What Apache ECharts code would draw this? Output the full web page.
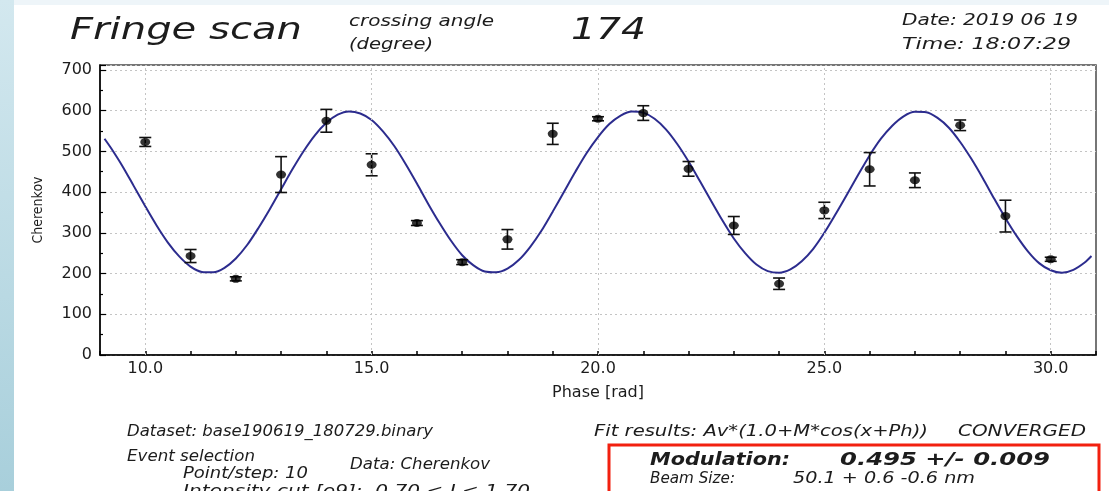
<!DOCTYPE html>
<html>
<head>
<meta charset="utf-8">
<title>Fringe scan</title>
<script src="https://cdn.jsdelivr.net/npm/echarts@6/dist/echarts.min.js"></script>
<style>
  html, body { margin: 0; padding: 0; background: #ffffff; }
  #strip { position: absolute; left: 0; top: 0; width: 14px; height: 491px;
           background: linear-gradient(to bottom, #d3e8ef, #a8cfdb); }
  #topband { position: absolute; left: 14px; top: 0; width: 1095px; height: 5px; background: #eef5f9; }
  #chart { position: absolute; left: 0; top: 0; width: 1109px; height: 491px; }
</style>
</head>
<body>
<div id="strip"></div>
<div id="topband"></div>
<div id="chart"></div>
<script>
// measured points (phase in rad, Cherenkov counts, error)
const phase = [10, 11, 12, 13, 14, 15, 16, 17, 18, 19, 20, 21, 22, 23, 24, 25, 26, 27, 28, 29, 30];
const counts = [523, 243, 187, 443, 575, 467, 324, 228, 284, 543, 580, 594, 457, 318, 175, 355, 456, 429, 564, 341, 235];
const errors = [11, 16, 5, 44, 28, 27, 6, 6, 24, 26, 5, 18, 18, 22, 14, 20, 41, 18, 13, 39, 5];

// fit curve, every quarter rad
const fitPhase = [9.1, 9.25, 9.5, 9.75, 10, 10.25, 10.5, 10.75, 11, 11.25, 11.5, 11.75, 12, 12.25, 12.5, 12.75,
  13, 13.25, 13.5, 13.75, 14, 14.25, 14.5, 14.75, 15, 15.25, 15.5, 15.75, 16, 16.25, 16.5, 16.75,
  17, 17.25, 17.5, 17.75, 18, 18.25, 18.5, 18.75, 19, 19.25, 19.5, 19.75, 20, 20.25, 20.5, 20.75,
  21, 21.25, 21.5, 21.75, 22, 22.25, 22.5, 22.75, 23, 23.25, 23.5, 23.75, 24, 24.25, 24.5, 24.75,
  25, 25.25, 25.5, 25.75, 26, 26.25, 26.5, 26.75, 27, 27.25, 27.5, 27.75, 28, 28.25, 28.5, 28.75,
  29, 29.25, 29.5, 29.75, 30, 30.25, 30.5, 30.75, 30.9];
const fitCounts = [531, 507, 463, 414, 365, 318, 276, 242, 217, 204, 203, 214, 237, 270, 312, 358,
  407, 456, 501, 540, 570, 590, 598, 593, 577, 549, 513, 469, 421, 371, 324, 281,
  245, 220, 205, 203, 212, 233, 265, 305, 352, 401, 450, 496, 535, 567, 588, 598,
  595, 580, 554, 518, 475, 427, 378, 330, 286, 250, 222, 206, 202, 210, 230, 260,
  300, 346, 394, 443, 490, 531, 563, 586, 597, 596, 582, 558, 523, 481, 434, 384,
  336, 292, 254, 225, 208, 202, 209, 227, 243];

const xMajor = [10, 15, 20, 25, 30];

const chart = echarts.init(document.getElementById('chart'));

// the original screenshot is stretched sideways, so texts get a scaleX to fit their span
const measureCtx = document.createElement('canvas').getContext('2d');
function label(text, left, right, cy, font) {
  measureCtx.font = font;
  const w = measureCtx.measureText(text).width;
  return {
    type: 'text',
    x: left,
    y: cy,
    scaleX: (right - left) / w,
    silent: true,
    style: { text: text, font: font, fill: '#1c1c1c', verticalAlign: 'middle' }
  };
}

const big = 'italic 30px "DejaVu Sans"';
const small = 'italic 15px "DejaVu Sans"';
const info = 'italic 15px "DejaVu Sans"';
const boldInfo = 'italic bold 17px "DejaVu Sans"';
const beam = 'italic 15px "DejaVu Sans"';

const texts = [
  label('Fringe scan', 70, 302, 31, big),
  label('crossing angle', 349, 494, 22, small),
  label('(degree)', 349, 433, 45, small),
  label('174', 571, 646, 31, big),
  label('Date: 2019 06 19', 902, 1078, 21, small),
  label('Time: 18:07:29', 902, 1071, 45, small),
  label('Dataset: base190619_180729.binary', 127, 433, 432, info),
  label('Fit results: Av*(1.0+M*cos(x+Ph))', 594, 928, 432, info),
  label('CONVERGED', 958, 1086, 432, info),
  label('Event selection', 127, 255, 457, info),
  label('Data: Cherenkov', 350, 490, 465, info),
  label('Point/step: 10', 183, 308, 474, info),
  label('Intensity cut [e9]:  0.70 < I < 1.70', 183, 530, 492, info),
  label('Modulation:', 650, 790, 461, boldInfo),
  label('0.495 +/- 0.009', 840, 1050, 461, boldInfo),
  label('Beam Size:', 650, 735, 479, beam),
  label('50.1 + 0.6 -0.6 nm', 793, 975, 479, beam),
  {
    type: 'rect',
    silent: true,
    shape: { x: 609, y: 445, width: 490, height: 52 },
    style: { fill: 'none', stroke: '#f2200f', lineWidth: 3 }
  }
];

const option = {
  animation: false,
  backgroundColor: 'transparent',
  grid: {
    left: 100, right: 13, top: 65, bottom: 136,
    show: true, borderColor: '#4a4a4a', borderWidth: 1.5, backgroundColor: '#ffffff'
  },
  xAxis: {
    type: 'value',
    min: 9,
    max: 31,
    interval: 1,
    name: 'Phase [rad]',
    nameLocation: 'middle',
    nameGap: 30,
    nameTextStyle: { fontFamily: 'DejaVu Sans', fontSize: 16, color: '#1c1c1c' },
    axisLine: { lineStyle: { color: '#000', width: 1.5 } },
    axisTick: { inside: true, length: 4, lineStyle: { color: '#000', width: 1.5 } },
    axisLabel: {
      margin: 6,
      fontFamily: 'DejaVu Sans', fontSize: 16, color: '#1c1c1c',
      formatter: v => (v % 5 === 0 ? v.toFixed(1) : '')
    },
    splitLine: { show: false }
  },
  yAxis: {
    type: 'value',
    min: 0,
    max: 712,
    interval: 100,
    name: 'Cherenkov',
    nameLocation: 'middle',
    nameGap: 55,
    nameTextStyle: {
      fontFamily: '"DejaVu Sans Condensed", "Liberation Sans", sans-serif',
      fontSize: 14, color: '#1c1c1c', padding: [0, 0, 0, 0]
    },
    axisLine: { show: true, lineStyle: { color: '#000', width: 1.5 } },
    axisTick: { inside: true, length: 6, lineStyle: { color: '#000', width: 1.2 } },
    minorTick: { show: true, splitNumber: 2, length: 3, lineStyle: { color: '#000', width: 1.2 } },
    axisLabel: {
      margin: 8,
      fontFamily: 'DejaVu Sans', fontSize: 16, color: '#1c1c1c',
      formatter: v => (v % 100 === 0 ? String(v) : '')
    },
    splitLine: { lineStyle: { color: '#c4c4c4', type: [2, 3], width: 1 } }
  },
  series: [
    {
      // vertical grid lines at the labelled phases
      type: 'line',
      data: [],
      z: 1,
      silent: true,
      markLine: {
        silent: true,
        symbol: 'none',
        label: { show: false },
        lineStyle: { color: '#c4c4c4', type: [2, 3], width: 1 },
        data: xMajor.map(v => ({ xAxis: v }))
      }
    },
    {
      name: 'fit',
      type: 'line',
      data: fitPhase.map((x, i) => [x, fitCounts[i]]),
      smooth: 0.3,
      showSymbol: false,
      z: 3,
      lineStyle: { color: '#2c2c8e', width: 2 }
    },
    {
      name: 'errors',
      type: 'custom',
      z: 4,
      data: phase.map((x, i) => [x, counts[i] - errors[i], counts[i] + errors[i]]),
      renderItem: function (params, api) {
        const lo = api.coord([api.value(0), api.value(1)]);
        const hi = api.coord([api.value(0), api.value(2)]);
        const cap = 6;
        const style = { stroke: '#111', lineWidth: 1.6 };
        return {
          type: 'group',
          children: [
            { type: 'line', shape: { x1: lo[0], y1: lo[1], x2: hi[0], y2: hi[1] }, style: style },
            { type: 'line', shape: { x1: lo[0] - cap, y1: lo[1], x2: lo[0] + cap, y2: lo[1] }, style: style },
            { type: 'line', shape: { x1: hi[0] - cap, y1: hi[1], x2: hi[0] + cap, y2: hi[1] }, style: style }
          ]
        };
      }
    },
    {
      name: 'Cherenkov',
      type: 'scatter',
      z: 5,
      symbol: 'circle',
      symbolSize: [10, 8],
      itemStyle: { color: '#000' },
      data: phase.map((x, i) => [x, counts[i]])
    }
  ],
  graphic: texts
};

chart.setOption(option);
</script>
</body>
</html>
